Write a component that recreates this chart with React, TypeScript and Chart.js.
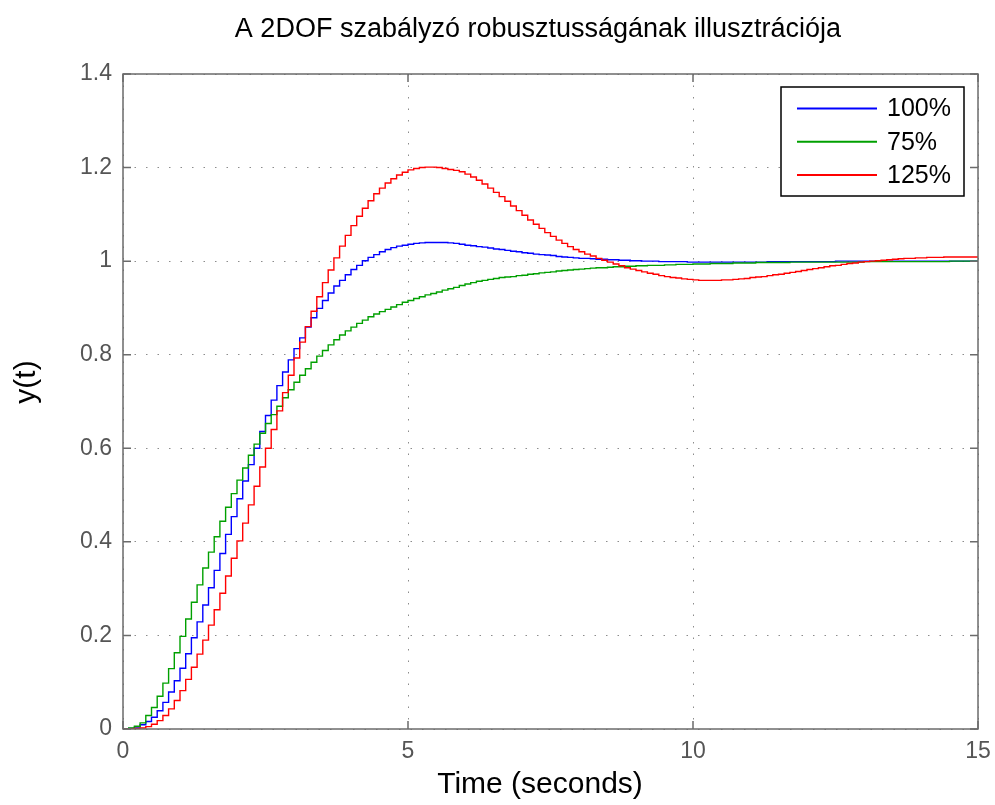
import React, { useEffect, useRef } from "react";
import { Chart, registerables } from "chart.js";

Chart.register(...registerables);

// ---- data -------------------------------------------------------------
const TITLE = "A 2DOF szabályzó robusztusságának illusztrációja";
const X_LABEL = "Time (seconds)";
const Y_LABEL = "y(t)";
const SERIES_LABELS = ["100%", "75%", "125%"];
const SERIES_COLORS = ["#0000ff", "#00a000", "#ff0000"];
const SAMPLE_TIME = 0.1; // seconds per stair step
const X_TICKS = [0, 5, 10, 15];
const Y_TICKS = [0, 0.2, 0.4, 0.6, 0.8, 1, 1.2, 1.4];

const Y_100 = [
  0, 0.001, 0.004, 0.009, 0.016, 0.025, 0.039, 0.057, 0.079, 0.103,
  0.130, 0.161, 0.195, 0.229, 0.265, 0.302, 0.339, 0.375, 0.416, 0.454,
  0.492, 0.530, 0.565, 0.600, 0.636, 0.670, 0.703, 0.734, 0.763, 0.789,
  0.813, 0.836, 0.859, 0.879, 0.899, 0.916, 0.932, 0.947, 0.959, 0.971,
  0.982, 0.991, 1.001, 1.008, 1.014, 1.020, 1.025, 1.029, 1.032, 1.034,
  1.036, 1.038, 1.039, 1.040, 1.040, 1.040, 1.040, 1.039, 1.038, 1.036,
  1.034, 1.033, 1.031, 1.030, 1.028, 1.026, 1.025, 1.023, 1.021, 1.020,
  1.018, 1.017, 1.015, 1.014, 1.013, 1.012, 1.010, 1.009, 1.008, 1.007,
  1.006, 1.006, 1.005, 1.004, 1.004, 1.003, 1.003, 1.002, 1.002, 1.001,
  1.001, 1.000, 1.000, 1.000, 0.999, 0.999, 0.999, 0.999, 0.999, 0.998,
  0.998, 0.998, 0.998, 0.998, 0.998, 0.998, 0.998, 0.998, 0.998, 0.998,
  0.998, 0.998, 0.998, 0.999, 0.999, 0.999, 0.999, 0.999, 0.999, 0.999,
  0.999, 0.999, 0.999, 0.999, 0.999, 1.000, 1.000, 1.000, 1.000, 1.000,
  1.000, 1.000, 1.000, 1.000, 1.000, 1.000, 1.000, 1.000, 1.000, 1.000,
  1.000, 1.000, 1.000, 1.000, 1.000, 1.000, 1.000, 1.000, 1.000, 1.000,
  1.000,
];

const Y_75 = [
  0, 0.002, 0.006, 0.013, 0.029, 0.046, 0.070, 0.098, 0.129, 0.163,
  0.198, 0.235, 0.271, 0.308, 0.344, 0.378, 0.411, 0.444, 0.474, 0.503,
  0.532, 0.558, 0.585, 0.609, 0.632, 0.653, 0.672, 0.690, 0.708, 0.725,
  0.741, 0.756, 0.770, 0.784, 0.797, 0.809, 0.821, 0.832, 0.842, 0.851,
  0.859, 0.867, 0.874, 0.881, 0.887, 0.892, 0.897, 0.902, 0.907, 0.912,
  0.916, 0.920, 0.924, 0.928, 0.931, 0.934, 0.938, 0.941, 0.944, 0.948,
  0.951, 0.954, 0.957, 0.959, 0.961, 0.963, 0.965, 0.966, 0.967, 0.969,
  0.970, 0.972, 0.973, 0.975, 0.976, 0.977, 0.979, 0.980, 0.981, 0.982,
  0.983, 0.984, 0.985, 0.986, 0.986, 0.987, 0.988, 0.988, 0.989, 0.989,
  0.990, 0.990, 0.991, 0.991, 0.991, 0.992, 0.992, 0.993, 0.993, 0.993,
  0.994, 0.994, 0.994, 0.995, 0.995, 0.995, 0.995, 0.996, 0.996, 0.996,
  0.996, 0.997, 0.997, 0.997, 0.997, 0.997, 0.997, 0.998, 0.998, 0.998,
  0.998, 0.998, 0.998, 0.998, 0.998, 0.998, 0.998, 0.998, 0.998, 0.998,
  0.999, 0.999, 0.999, 0.999, 0.999, 0.999, 0.999, 0.999, 0.999, 0.999,
  0.999, 0.999, 0.999, 0.999, 0.999, 1.000, 1.000, 1.000, 1.000, 1.000,
  1.000,
];

const Y_125 = [
  0, 0.000, 0.001, 0.002, 0.005, 0.010, 0.018, 0.029, 0.043, 0.061,
  0.082, 0.106, 0.132, 0.160, 0.190, 0.222, 0.255, 0.290, 0.327, 0.365,
  0.402, 0.440, 0.479, 0.519, 0.560, 0.600, 0.640, 0.680, 0.719, 0.756,
  0.793, 0.827, 0.860, 0.893, 0.924, 0.954, 0.981, 1.007, 1.032, 1.055,
  1.076, 1.096, 1.113, 1.129, 1.144, 1.156, 1.167, 1.176, 1.184, 1.190,
  1.195, 1.198, 1.200, 1.201, 1.201, 1.200, 1.198, 1.196, 1.194, 1.191,
  1.186, 1.180, 1.173, 1.165, 1.156, 1.147, 1.138, 1.128, 1.118, 1.108,
  1.098, 1.088, 1.079, 1.070, 1.061, 1.053, 1.045, 1.038, 1.031, 1.025,
  1.020, 1.015, 1.011, 1.006, 1.002, 0.998, 0.994, 0.990, 0.986, 0.983,
  0.980, 0.977, 0.974, 0.972, 0.969, 0.967, 0.965, 0.964, 0.962, 0.961,
  0.960, 0.959, 0.959, 0.959, 0.959, 0.960, 0.960, 0.961, 0.962, 0.963,
  0.965, 0.966, 0.967, 0.969, 0.971, 0.972, 0.974, 0.976, 0.978, 0.980,
  0.982, 0.984, 0.986, 0.988, 0.990, 0.991, 0.993, 0.995, 0.996, 0.998,
  0.999, 1.000, 1.001, 1.002, 1.003, 1.004, 1.005, 1.006, 1.006, 1.007,
  1.007, 1.008, 1.008, 1.008, 1.009, 1.009, 1.009, 1.009, 1.009, 1.009,
  1.009,
];

const SERIES = [Y_100, Y_75, Y_125];

// ---- styling ----------------------------------------------------------
const FONT = "'Liberation Sans', Arial, Helvetica, sans-serif";
const AXIS_GRAY = "#6b6b6b";
const TICK_GRAY = "#555555";

const toPoints = (ys: number[]) =>
  ys.map((v, i) => ({ x: Math.round(i * SAMPLE_TIME * 1000) / 1000, y: v }));

const matlabFrame = {
  id: "matlabFrame",
  afterDraw(chart: any) {
    const { ctx, chartArea: a, scales } = chart;
    const xs = scales.x;
    const ys = scales.y;
    ctx.save();

    // axes box
    ctx.strokeStyle = AXIS_GRAY;
    ctx.lineWidth = 1.5;
    ctx.strokeRect(a.left, a.top, a.right - a.left, a.bottom - a.top);

    // inward tick marks on all four sides
    const tl = 8;
    ctx.beginPath();
    xs.ticks.forEach((t: any) => {
      const px = xs.getPixelForValue(t.value);
      ctx.moveTo(px, a.bottom);
      ctx.lineTo(px, a.bottom - tl);
      ctx.moveTo(px, a.top);
      ctx.lineTo(px, a.top + tl);
    });
    ys.ticks.forEach((t: any) => {
      const py = ys.getPixelForValue(t.value);
      ctx.moveTo(a.left, py);
      ctx.lineTo(a.left + tl, py);
      ctx.moveTo(a.right, py);
      ctx.lineTo(a.right - tl, py);
    });
    ctx.stroke();

    // legend box (inside, north-east)
    const lx = 781, ly = 87, lw = 183, lh = 109;
    ctx.fillStyle = "#ffffff";
    ctx.fillRect(lx, ly, lw, lh);
    ctx.strokeStyle = "#000000";
    ctx.lineWidth = 1.5;
    ctx.strokeRect(lx, ly, lw, lh);
    ctx.font = `25px ${FONT}`;
    ctx.textBaseline = "middle";
    ctx.textAlign = "left";
    chart.data.datasets.forEach((ds: any, i: number) => {
      const rowY = ly + 21.5 + i * 33.2;
      ctx.strokeStyle = ds.borderColor;
      ctx.lineWidth = 2;
      ctx.beginPath();
      ctx.moveTo(lx + 16, rowY);
      ctx.lineTo(lx + 96, rowY);
      ctx.stroke();
      ctx.fillStyle = "#000000";
      ctx.fillText(ds.label, lx + 106, rowY + 1);
    });

    // titles
    ctx.fillStyle = "#000000";
    ctx.textAlign = "center";
    ctx.textBaseline = "alphabetic";
    ctx.font = `27px ${FONT}`;
    ctx.fillText(TITLE, 538, 37);

    ctx.font = `30px ${FONT}`;
    ctx.fillText(X_LABEL, 540, 793);

    ctx.save();
    ctx.translate(27, 382);
    ctx.rotate(-Math.PI / 2);
    ctx.textBaseline = "middle";
    ctx.fillText(Y_LABEL, 0, 0);
    ctx.restore();

    ctx.restore();
  },
};

export default function App() {
  const canvasRef = useRef<HTMLCanvasElement | null>(null);

  useEffect(() => {
    if (!canvasRef.current) return;
    const chart = new Chart(canvasRef.current, {
      type: "line",
      data: {
        datasets: SERIES.map((ys, i) => ({
          label: SERIES_LABELS[i],
          data: toPoints(ys),
          borderColor: SERIES_COLORS[i],
          backgroundColor: SERIES_COLORS[i],
          borderWidth: 1.4,
          pointRadius: 0,
          stepped: true,
          fill: false,
          order: SERIES.length - 1 - i,
        })),
      },
      options: {
        animation: false,
        responsive: false,
        maintainAspectRatio: false,
        layout: { padding: { left: 0, right: 17, top: 74, bottom: 0 } },
        plugins: {
          legend: { display: false },
          title: { display: false },
          tooltip: { enabled: false },
        },
        scales: {
          x: {
            type: "linear",
            min: 0,
            max: 15,
            afterFit: (s: any) => {
              s.height = 76;
              s.paddingLeft = 0;
              s.paddingRight = 0;
            },
            afterBuildTicks: (s: any) => {
              s.ticks = X_TICKS.map((v) => ({ value: v }));
            },
            grid: {
              color: "rgba(0,0,0,0.45)",
              lineWidth: 1,
              drawTicks: false,
            },
            border: { display: false, dash: [1.5, 10] },
            ticks: {
              color: TICK_GRAY,
              font: { family: FONT, size: 23 },
              padding: 9,
              maxRotation: 0,
              callback: (v: any) => String(v),
            },
          },
          y: {
            type: "linear",
            min: 0,
            max: 1.4,
            afterFit: (s: any) => {
              s.width = 123;
              s.paddingTop = 0;
              s.paddingBottom = 0;
            },
            afterBuildTicks: (s: any) => {
              s.ticks = Y_TICKS.map((v) => ({ value: v }));
            },
            grid: {
              color: "rgba(0,0,0,0.45)",
              lineWidth: 1,
              drawTicks: false,
            },
            border: { display: false, dash: [1.5, 10] },
            ticks: {
              color: TICK_GRAY,
              font: { family: FONT, size: 23 },
              padding: 11,
              callback: (v: any) => String(Math.round(Number(v) * 10) / 10),
            },
          },
        },
      },
      plugins: [matlabFrame],
    });
    return () => chart.destroy();
  }, []);

  return (
    <div
      style={{
        position: "fixed",
        left: 0,
        top: 0,
        width: 995,
        height: 805,
        background: "#ffffff",
      }}
    >
      <canvas ref={canvasRef} width={995} height={805} style={{ display: "block" }} />
    </div>
  );
}
